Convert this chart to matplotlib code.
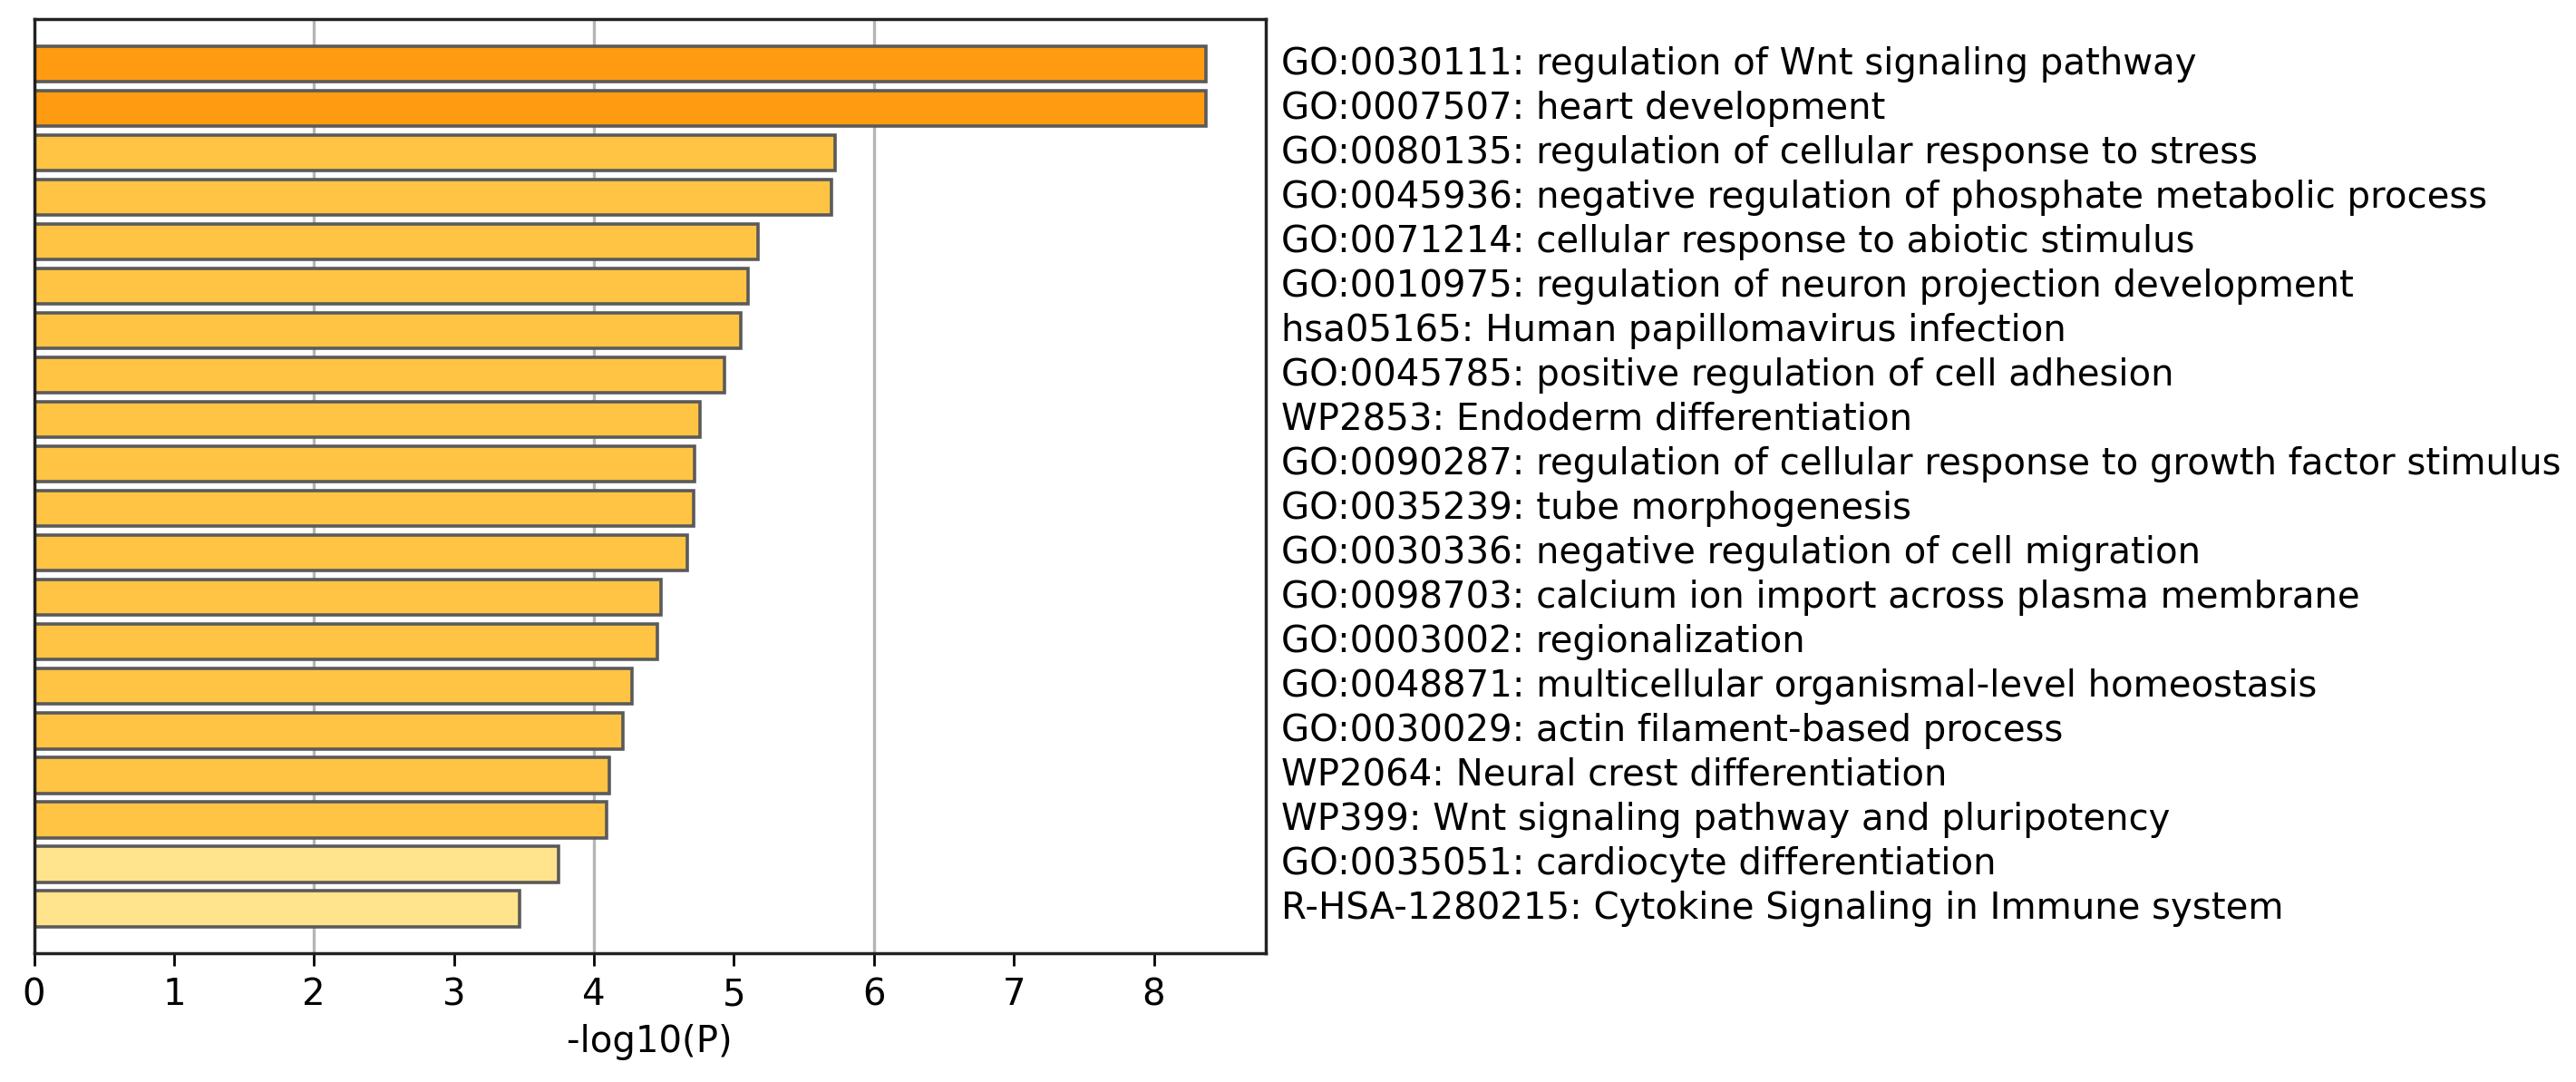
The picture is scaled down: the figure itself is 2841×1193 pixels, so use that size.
import matplotlib
matplotlib.use('Agg')
import matplotlib.pyplot as plt

# terms, top to bottom
terms = [
    'GO:0030111: regulation of Wnt signaling pathway',
    'GO:0007507: heart development',
    'GO:0080135: regulation of cellular response to stress',
    'GO:0045936: negative regulation of phosphate metabolic process',
    'GO:0071214: cellular response to abiotic stimulus',
    'GO:0010975: regulation of neuron projection development',
    'hsa05165: Human papillomavirus infection',
    'GO:0045785: positive regulation of cell adhesion',
    'WP2853: Endoderm differentiation',
    'GO:0090287: regulation of cellular response to growth factor stimulus',
    'GO:0035239: tube morphogenesis',
    'GO:0030336: negative regulation of cell migration',
    'GO:0098703: calcium ion import across plasma membrane',
    'GO:0003002: regionalization',
    'GO:0048871: multicellular organismal-level homeostasis',
    'GO:0030029: actin filament-based process',
    'WP2064: Neural crest differentiation',
    'WP399: Wnt signaling pathway and pluripotency',
    'GO:0035051: cardiocyte differentiation',
    'R-HSA-1280215: Cytokine Signaling in Immune system',
]
logp = [8.37, 8.37, 5.72, 5.70, 5.17, 5.10, 5.05, 4.93, 4.76, 4.72,
        4.71, 4.67, 4.48, 4.45, 4.27, 4.21, 4.11, 4.09, 3.75, 3.47]

# colour bins by significance
def bar_color(v):
    if v > 6:
        return '#FF9B11'
    elif v > 4:
        return '#FFC443'
    return '#FFE38D'

colors = [bar_color(v) for v in logp]

fig = plt.figure(figsize=(28.41, 11.93), dpi=100)
ax = fig.add_axes([0.0132, 0.119, 0.4782, 0.863])

pos = list(range(len(terms)))[::-1]
for x in [2, 4, 6]:
    ax.axvline(x, color='#b5b5b5', lw=2.4, zorder=0)
ax.barh(pos, logp, height=0.8, color=colors, edgecolor='#5a5a5a', linewidth=2.6, zorder=2)

ax.set_xlim(0, 8.8)
ax.set_ylim(-1, len(terms))
ax.set_xticks(range(0, 9))
ax.tick_params(axis='x', labelsize=29, length=10, width=2, pad=9)
ax.set_xlabel('-log10(P)', fontsize=29, labelpad=8)

ax.yaxis.tick_right()
ax.set_yticks(pos)
ax.set_yticklabels(terms, fontsize=29, va='center')
ax.tick_params(axis='y', length=0, pad=12)

for s in ax.spines.values():
    s.set_linewidth(2.5)
    s.set_color('#222222')

fig.savefig('out.png', dpi=100)
